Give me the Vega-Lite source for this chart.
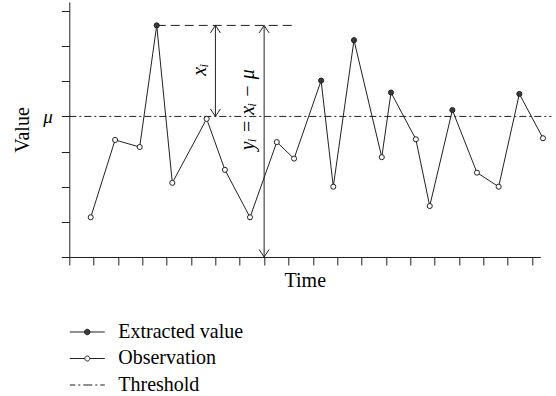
{
  "$schema": "https://vega.github.io/schema/vega-lite/v6.json",
  "width": 471,
  "height": 255,
  "autosize": {"type": "none"},
  "padding": {"left": 69.3, "top": 2, "right": 16, "bottom": 139},
  "background": "white",
  "config": {
    "view": {"stroke": null},
    "font": "Liberation Serif"
  },
  "datasets": {
    "series": [
      {"t": 0.88, "v": -2.87, "type": "Observation"},
      {"t": 1.88, "v": -0.67, "type": "Observation"},
      {"t": 2.89, "v": -0.87, "type": "Observation"},
      {"t": 3.59, "v": 2.59, "type": "Extracted value"},
      {"t": 4.23, "v": -1.89, "type": "Observation"},
      {"t": 5.64, "v": -0.07, "type": "Observation"},
      {"t": 6.39, "v": -1.52, "type": "Observation"},
      {"t": 7.42, "v": -2.87, "type": "Observation"},
      {"t": 8.52, "v": -0.73, "type": "Observation"},
      {"t": 9.23, "v": -1.2, "type": "Observation"},
      {"t": 10.34, "v": 1.02, "type": "Extracted value"},
      {"t": 10.84, "v": -2.0, "type": "Observation"},
      {"t": 11.69, "v": 2.17, "type": "Extracted value"},
      {"t": 12.83, "v": -1.16, "type": "Observation"},
      {"t": 13.21, "v": 0.68, "type": "Extracted value"},
      {"t": 14.23, "v": -0.65, "type": "Observation"},
      {"t": 14.8, "v": -2.55, "type": "Observation"},
      {"t": 15.73, "v": 0.18, "type": "Extracted value"},
      {"t": 16.74, "v": -1.6, "type": "Observation"},
      {"t": 17.63, "v": -2.0, "type": "Observation"},
      {"t": 18.48, "v": 0.64, "type": "Extracted value"},
      {"t": 19.45, "v": -0.62, "type": "Observation"}
    ]
  },
  "encoding": {
    "x": {
      "field": "t", "type": "quantitative",
      "scale": {"domain": [0, 19.34], "nice": false, "zero": false},
      "axis": {
        "title": "Time", "values": [0,1,2,3,4,5,6,7,8,9,10,11,12,13,14,15,16,17,18,19],
        "labels": false, "grid": false, "tickSize": 8, "tickColor": "#231f20", "domainColor": "#231f20",
        "tickWidth": 1, "domainWidth": 1,
        "titleFont": "Liberation Serif", "titleFontSize": 20, "titleFontWeight": "normal", "titleColor": "black", "titlePadding": 5
      }
    },
    "y": {
      "field": "v", "type": "quantitative",
      "scale": {"domain": [-4, 3.256], "nice": false, "zero": false},
      "axis": {
        "title": "Value", "values": [-4,-3,-2,-1,0,1,2,3],
        "labelExpr": "datum.value == 0 ? 'μ' : ''",
        "labelFont": "Liberation Serif", "labelFontStyle": "italic", "labelFontSize": 19, "labelColor": "black", "labelPadding": 9,
        "grid": false, "tickSize": 8, "tickColor": "#231f20", "domainColor": "#231f20", "tickWidth": 1, "domainWidth": 1,
        "titleFont": "Liberation Serif", "titleFontSize": 20, "titleFontWeight": "normal", "titleColor": "black", "titlePadding": 10
      }
    }
  },
  "layer": [
    {
      "data": {"values": [{"t": 0, "t2": 19.8, "v": 0}]},
      "mark": {"type": "rule", "color": "#231f20", "strokeWidth": 1, "strokeDash": [7, 3, 2, 3]},
      "encoding": {"x2": {"field": "t2"}}
    },
    {
      "data": {"values": [{"t": 3.59, "t2": 9.34, "v": 2.59}]},
      "mark": {"type": "rule", "color": "#231f20", "strokeWidth": 1, "strokeDash": [9, 5]},
      "encoding": {"x2": {"field": "t2"}}
    },
    {
      "data": {"values": [{"t": 6, "v": 0, "v2": 2.59}, {"t": 8, "v": -4, "v2": 2.59}]},
      "mark": {"type": "rule", "color": "#231f20", "strokeWidth": 1},
      "encoding": {"y2": {"field": "v2"}}
    },
    {
      "data": {"values": [{"t": 6, "v": 2.59}, {"t": 8, "v": 2.59}]},
      "mark": {"type": "point", "shape": "M-1,1.5L0,0L1,1.5", "filled": false, "stroke": "#231f20", "strokeWidth": 1, "size": 100, "opacity": 1},
      "encoding": {}
    },
    {
      "data": {"values": [{"t": 6, "v": 0}, {"t": 8, "v": -4}]},
      "mark": {"type": "point", "shape": "M-1,-1.5L0,0L1,-1.5", "filled": false, "stroke": "#231f20", "strokeWidth": 1, "size": 100, "opacity": 1},
      "encoding": {}
    },
    {
      "data": {"name": "series"},
      "mark": {"type": "line", "color": "#231f20", "strokeWidth": 1},
      "encoding": {"order": {"field": "t", "type": "quantitative"}}
    },
    {
      "data": {"name": "series"},
      "transform": [{"filter": "datum.type == 'Observation'"}],
      "mark": {"type": "point", "shape": "circle", "filled": true, "fill": "white", "stroke": "#231f20", "strokeWidth": 1, "size": 26, "opacity": 1},
      "encoding": {}
    },
    {
      "data": {"name": "series"},
      "transform": [{"filter": "datum.type == 'Extracted value'"}],
      "mark": {"type": "point", "shape": "circle", "filled": true, "fill": "#3a3a3a", "stroke": "#231f20", "strokeWidth": 1, "size": 26, "opacity": 1},
      "encoding": {}
    },
    {
      "data": {"values": [
        {"t": 5.37, "v": 1.33, "label": "xᵢ"},
        {"t": 7.35, "v": 0.19, "label": "yᵢ = xᵢ − μ"}
      ]},
      "mark": {"type": "text", "angle": 270, "font": "Liberation Serif", "fontStyle": "italic", "fontSize": 20, "color": "black", "align": "center", "baseline": "middle"},
      "encoding": {"text": {"field": "label"}}
    },
    {
      "data": {"values": [{"series": "Extracted value", "t": 0, "v": 0}, {"series": "Observation", "t": 0, "v": 0}, {"series": "Threshold", "t": 0, "v": 0}]},
      "transform": [{"filter": "false"}],
      "mark": {"type": "point", "filled": true, "strokeWidth": 1, "size": 100, "opacity": 1},
      "encoding": {
        "fill": {
          "field": "series", "type": "nominal",
          "scale": {"domain": ["Extracted value", "Observation", "Threshold"], "range": ["#3a3a3a", "white", "white"]},
          "legend": {
            "title": null, "orient": "none", "legendX": 8, "legendY": 320, "padding": 0,
            "symbolSize": 100, "symbolStrokeColor": "#231f20", "symbolStrokeWidth": 1,
            "labelFont": "Liberation Serif", "labelFontSize": 20, "labelColor": "black", "labelOffset": 21, "rowPadding": 6.5, "labelLimit": 300
          }
        },
        "stroke": {
          "field": "series", "type": "nominal",
          "scale": {"domain": ["Extracted value", "Observation", "Threshold"], "range": ["#231f20", "#231f20", "#231f20"]},
          "legend": {
            "title": null, "orient": "none", "legendX": 8, "legendY": 320, "padding": 0,
            "symbolSize": 100, "symbolStrokeWidth": 1,
            "labelFont": "Liberation Serif", "labelFontSize": 20, "labelColor": "black", "labelOffset": 21, "rowPadding": 6.5, "labelLimit": 300
          }
        },
        "shape": {
          "field": "series", "type": "nominal",
          "scale": {"domain": ["Extracted value", "Observation", "Threshold"], "range": [
            "M-3.5,0H-0.55M0.55,0H3.5M-0.55,0A0.55,0.55,0,1,0,0.55,0A0.55,0.55,0,1,0,-0.55,0Z",
            "M-3.5,0H-0.5M0.5,0H3.5M-0.5,0A0.5,0.5,0,1,0,0.5,0A0.5,0.5,0,1,0,-0.5,0Z",
            "M-3.5,0H-2.4M-1.8,0H-1.4M-0.8,0H1M1.6,0H2M2.6,0H3.5"
          ]},
          "legend": {
            "title": null, "orient": "none", "legendX": 8, "legendY": 320, "padding": 0,
            "symbolSize": 100, "symbolStrokeWidth": 1,
            "labelFont": "Liberation Serif", "labelFontSize": 20, "labelColor": "black", "labelOffset": 21, "rowPadding": 6.5, "labelLimit": 300
          }
        }
      }
    }
  ]
}
